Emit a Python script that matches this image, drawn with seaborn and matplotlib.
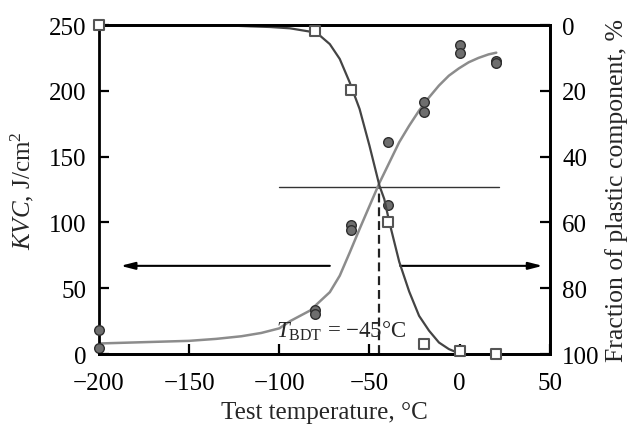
import matplotlib
matplotlib.use("Agg")
import matplotlib.pyplot as plt
import seaborn as sns
import pandas as pd

# ---- data ----
kvc_temp = [-200, -200, -80, -80, -60, -60, -40, -40, -20, -20, 0, 0, 20, 20]
kvc_val = [18, 4.5, 33.5, 30.5, 98, 94, 161, 113, 191.5, 184, 235, 229, 223, 221]

frac_temp = [-200, -80, -60, -40, -20, 0, 20]
frac_val = [0, 1.8, 19.8, 60, 97, 99, 100]

kvc_curve_x = [-200, -175, -150, -135, -121, -110, -100, -94, -83, -72, -66.5,
               -61, -55.5, -50, -44.5, -39, -33.5, -28, -22.5, -17, -11.5,
               -6, -0.5, 5, 10.4, 16, 20.3]
kvc_curve_y = [8, 9, 10, 11.5, 13.5, 16, 19.5, 25, 33, 47, 59.5,
               77, 95, 112.5, 130, 145.5, 161, 173.5, 185, 195, 204,
               211.5, 217, 221.7, 225, 227.7, 229]

frac_curve_x = [-200, -150, -125, -116, -105, -94, -83, -77.5, -72, -66.5, -61,
                -55.5, -50, -44.5, -41.8, -39, -33.5, -28, -22.5, -17, -11.5,
                -6, -1.6, 0]
frac_curve_y = [0, 0, 0.2, 0.4, 0.6, 1.0, 2.0, 3.2, 5.8, 10.3, 17.4,
                25.5, 36.7, 48.8, 52.9, 59.9, 72, 81, 88.4, 92.9, 96.5,
                98.5, 99.5, 100]

x_ticks = [-200, -150, -100, -50, 0, 50]
y_ticks = [0, 50, 100, 150, 200, 250]
y2_ticks = [0, 20, 40, 60, 80, 100]

t_bdt = -45
level = 127

sns.set_theme(style="ticks")
plt.rcParams["font.family"] = ["Liberation Serif", "DejaVu Serif"]
plt.rcParams["mathtext.fontset"] = "custom"
plt.rcParams["mathtext.rm"] = "Liberation Serif"
plt.rcParams["mathtext.it"] = "Liberation Serif:italic"
plt.rcParams["lines.solid_joinstyle"] = "round"

fig = plt.figure(figsize=(6.32, 4.27), dpi=100)
ax = fig.add_axes([0.1566, 0.1686, 0.7134, 0.7704])
ax2 = ax.twinx()

kvc_df = pd.DataFrame({"T": kvc_temp, "KVC": kvc_val})
frac_df = pd.DataFrame({"T": frac_temp, "F": frac_val})
kc = pd.DataFrame({"T": kvc_curve_x, "KVC": kvc_curve_y})
fc = pd.DataFrame({"T": frac_curve_x, "F": frac_curve_y})

sns.lineplot(data=kc, x="T", y="KVC", ax=ax, color="#8c8c8c", lw=1.8,
             sort=False, zorder=2)
sns.scatterplot(data=kvc_df, x="T", y="KVC", ax=ax, s=48, color="#6e6e6e",
                edgecolor="#2e2e2e", linewidth=1.0, zorder=4, clip_on=False)

sns.lineplot(data=fc, x="T", y="F", ax=ax2, color="#444444", lw=1.6,
             sort=False, zorder=2)
sns.scatterplot(data=frac_df, x="T", y="F", ax=ax2, s=55, marker="s",
                facecolor="white", edgecolor="#555555", linewidth=1.5,
                zorder=4, clip_on=False)

# horizontal level line and dashed T_BDT line
ax.plot([-100, 22], [level, level], color="#333333", lw=1.0, zorder=1)
ax.plot([t_bdt, t_bdt], [0, level], color="#222222", lw=1.6,
        ls=(0, (4, 2.2)), zorder=1)

# arrows
ax.annotate("", xy=(-188, 67), xytext=(-72, 67),
            arrowprops=dict(arrowstyle="-|>,head_length=0.7,head_width=0.18",
                            color="black", lw=1.5, shrinkA=0, shrinkB=0))
ax.annotate("", xy=(46, 67), xytext=(-33, 67),
            arrowprops=dict(arrowstyle="-|>,head_length=0.7,head_width=0.18",
                            color="black", lw=1.5, shrinkA=0, shrinkB=0))

ax.text(-102, 13, r"$T_{\mathrm{BDT}}$ = −45°C", fontsize=16.5, ha="left",
        va="baseline", zorder=5)

ax.set_xlim(-200, 50)
ax.set_ylim(0, 250)
ax2.set_ylim(100, 0)
ax.set_xticks(x_ticks)
ax.set_xticklabels([str(v).replace("-", "−") for v in x_ticks])
ax.set_yticks(y_ticks)
ax2.set_yticks(y2_ticks)

ax.set_xlabel("Test temperature, °C", fontsize=18, labelpad=5)
ax.set_ylabel(r"$\mathit{KVC}$, J/cm$^2$", fontsize=18, labelpad=9)
ax2.set_ylabel("Fraction of plastic component, %", fontsize=18.5, labelpad=4)

for a in (ax, ax2):
    for sp in a.spines.values():
        sp.set_linewidth(2.0)
        sp.set_color("black")
    a.tick_params(direction="in", length=7, width=1.6, labelsize=18,
                  colors="black", pad=8)
ax.tick_params(axis="x", pad=13)
ax.tick_params(axis="y", pad=9)
ax2.tick_params(axis="y", pad=9)
ax2.spines["left"].set_visible(False)

fig.savefig("out.png", dpi=100)
